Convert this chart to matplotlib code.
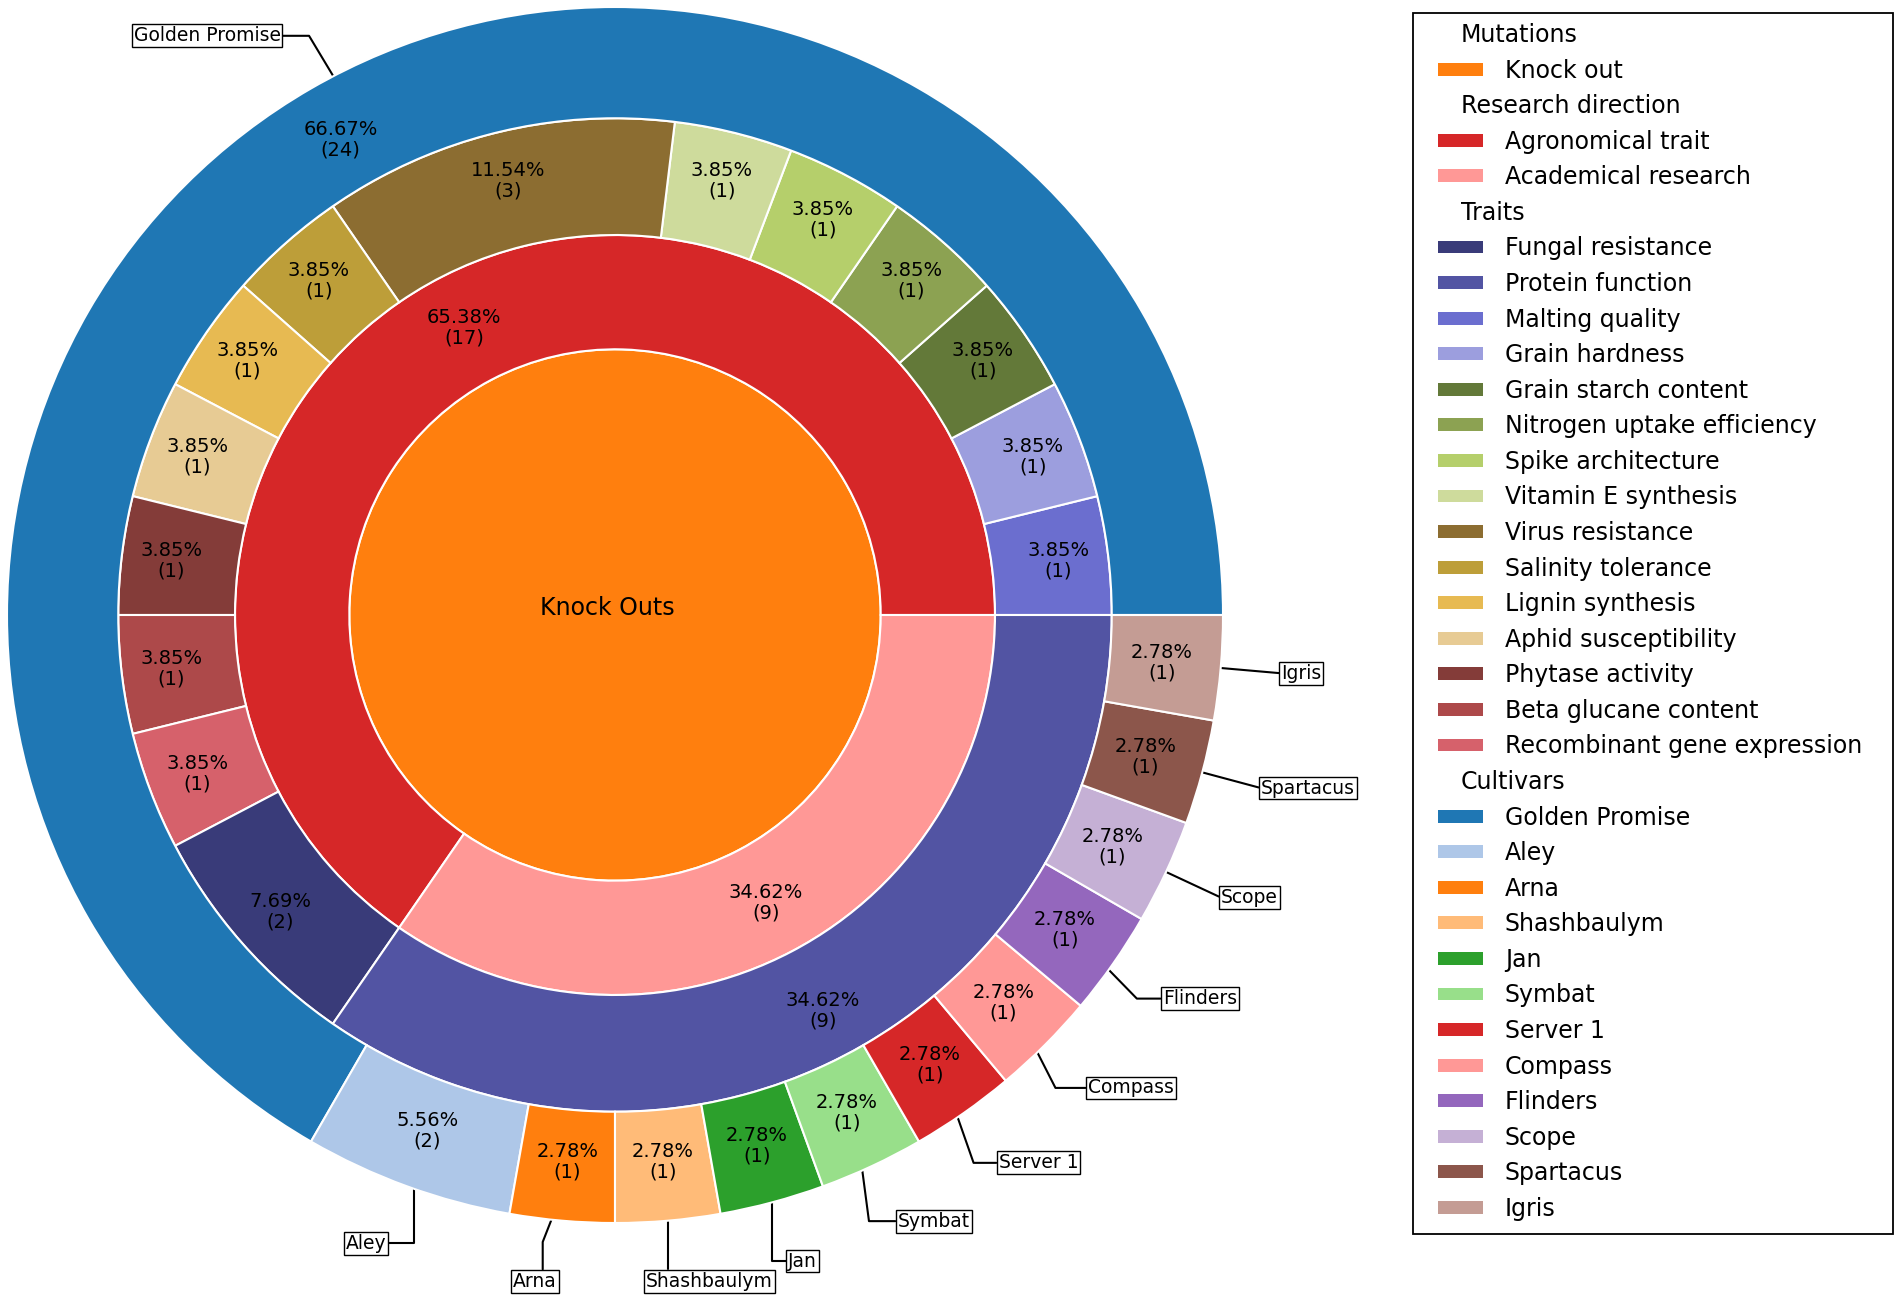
import matplotlib
matplotlib.use('Agg')
import matplotlib.pyplot as plt
from matplotlib.patches import Patch, Rectangle
from matplotlib.transforms import IdentityTransform
import numpy as np

# data
mutation_names = ['Knock out']
mutation_counts = [26]

research_names = ['Agronomical trait', 'Academical research']
research_counts = [17, 9]

trait_names = ['Fungal resistance', 'Protein function', 'Malting quality', 'Grain hardness',
               'Grain starch content', 'Nitrogen uptake efficiency', 'Spike architecture',
               'Vitamin E synthesis', 'Virus resistance', 'Salinity tolerance',
               'Lignin synthesis', 'Aphid susceptibility', 'Phytase activity',
               'Beta glucane content', 'Recombinant gene expression']
trait_counts = [2, 9, 1, 1, 1, 1, 1, 1, 3, 1, 1, 1, 1, 1, 1]
# order of the trait wedges round the ring, counter clockwise from 3 o'clock
trait_ring_order = [2, 3, 4, 5, 6, 7, 8, 9, 10, 11, 12, 13, 14, 0, 1]

cultivar_names = ['Golden Promise', 'Aley', 'Arna', 'Shashbaulym', 'Jan', 'Symbat',
                  'Server 1', 'Compass', 'Flinders', 'Scope', 'Spartacus', 'Igris']
cultivar_counts = [24, 2, 1, 1, 1, 1, 1, 1, 1, 1, 1, 1]

tab20 = plt.get_cmap('tab20')
tab20b = plt.get_cmap('tab20b')
mutation_colors = [tab20(2)]
research_colors = [tab20(6), tab20(7)]
trait_colors = [tab20b(i) for i in range(len(trait_names))]
cultivar_colors = [tab20(i) for i in range(len(cultivar_names))]


def pct_label(total):
    def fmt(pct):
        return '{:.2f}%\n({:d})'.format(pct, int(round(pct * total / 100.0)))
    return fmt


W, H, DPI = 1902, 1301, 100
fig = plt.figure(figsize=(W / DPI, H / DPI), dpi=DPI)
ax = fig.add_axes([0, 0, 1, 1])

wp = dict(edgecolor='white', linewidth=1.5)
tp = dict(fontsize=14, color='black', linespacing=1.1)

r_center, r_research, r_traits, r_outer = 0.437, 0.625, 0.817, 1.0

ax.pie(mutation_counts, radius=r_center, colors=mutation_colors, wedgeprops=wp)
ax.text(-0.012, 0.012, 'Knock Outs', ha='center', va='center', fontsize=17)

ax.pie(research_counts, radius=r_research, colors=research_colors,
       wedgeprops=dict(width=r_research - r_center, **wp),
       autopct=pct_label(sum(research_counts)), pctdistance=0.534 / r_research,
       textprops=tp)

ax.pie([trait_counts[i] for i in trait_ring_order], radius=r_traits,
       colors=[trait_colors[i] for i in trait_ring_order],
       wedgeprops=dict(width=r_traits - r_research, **wp),
       autopct=pct_label(sum(trait_counts)), pctdistance=0.735 / r_traits,
       textprops=tp)

outer_wedges = ax.pie(cultivar_counts, radius=r_outer, colors=cultivar_colors,
                      wedgeprops=dict(width=r_outer - r_traits, **wp),
                      autopct=pct_label(sum(cultivar_counts)), pctdistance=0.903,
                      textprops=tp)[0]

# where each leader line leaves the rim and how it bends
label_layout = {
    'Golden Promise': dict(rim=117.6, angle_b=121),
    'Aley': dict(rim=250.7, angle_b=90),
    'Arna': dict(rim=264, angle_a=90, angle_b=68.6, relpos=(0.68, 0.5)),
    'Shashbaulym': dict(angle_b=90, text_x=0.051),
    'Jan': dict(angle_b=90),
    'Symbat': dict(rim=294, angle_b=97.5),
    'Server 1': dict(rim=304.3, angle_b=109.3),
    'Compass': dict(rim=314, angle_b=117),
    'Flinders': dict(rim=324.3, angle_b=134.3),
}
bbox_props = dict(boxstyle='square,pad=0.1', fc='w', ec='k', lw=1.0)
for w, name in zip(outer_wedges, cultivar_names):
    ang = (w.theta2 - w.theta1) / 2. + w.theta1
    opt = label_layout.get(name, {})
    x, y = np.cos(np.deg2rad(ang)), np.sin(np.deg2rad(ang))
    rim = np.deg2rad(opt.get('rim', ang))
    ha = 'left' if x > 0 else 'right'
    cs = 'angle,angleA={},angleB={}'.format(opt.get('angle_a', 0), opt.get('angle_b', ang))
    ax.annotate(name, xy=(np.cos(rim), np.sin(rim)),
                xytext=(opt.get('text_x', 1.1 * x), 1.1 * y),
                ha=ha, va='center', fontsize=13.5, bbox=bbox_props, zorder=0,
                arrowprops=dict(arrowstyle='-', color='k', lw=1.5, connectionstyle=cs,
                                relpos=opt.get('relpos', (0.5, 0.5)),
                                shrinkA=0, shrinkB=0))

scale = 608.0
cx, cy = 615.0, 615.0
ax.set_xlim(-cx / scale, (W - cx) / scale)
ax.set_ylim(-(H - cy) / scale, cy / scale)
ax.set_aspect('equal')
ax.axis('off')

# legend with section headers
handles, labels, headers = [], [], []


def add_section(title, names, colors):
    handles.append(Patch(facecolor='none', edgecolor='none'))
    labels.append(title)
    headers.append(title)
    for n, c in zip(names, colors):
        handles.append(Patch(facecolor=c, edgecolor='none'))
        labels.append(n)


add_section('Mutations', mutation_names, mutation_colors)
add_section('Research direction', research_names, research_colors)
add_section('Traits', trait_names, trait_colors)
add_section('Cultivars', cultivar_names, cultivar_colors)

leg = fig.legend(handles, labels, loc='upper left',
                 bbox_to_anchor=(1438 / W, 1 - 23 / H), frameon=False, fontsize=17,
                 handlelength=1.9, handleheight=0.46, handletextpad=0.93,
                 labelspacing=0.49, borderpad=0, borderaxespad=0)
for t in leg.get_texts():
    if t.get_text() in headers:
        t.set_x(-44)

fig.canvas.draw()
bb = leg.get_window_extent()
frame = Rectangle((bb.x0 - 25, bb.y0 - 13), bb.width + 56, bb.height + 23,
                  fill=False, ec='k', lw=1.3, transform=IdentityTransform())
fig.add_artist(frame)

fig.savefig('out.png', dpi=DPI)
